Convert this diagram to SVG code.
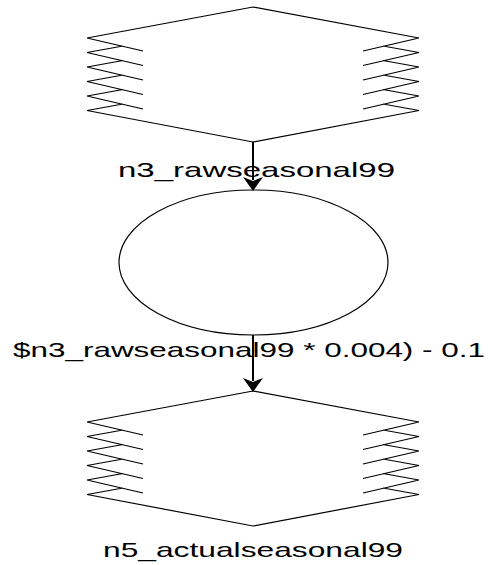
<svg xmlns="http://www.w3.org/2000/svg" width="488" height="565" viewBox="0 0 488 565">
<style>
.shape{fill:none;stroke:#000;stroke-width:1.2}
.lbl{font-family:"Liberation Sans",Arial,sans-serif;font-size:21px;fill:#000}
.edge{stroke:#000;stroke-width:2;fill:none}
.head{fill:#000;stroke:none}
</style>
<defs>
<path id="fuzzy" class="shape" d="M0,0 L-166,31 M-166,103.5 L0,135 L166,103.5 M166,31 L0,0
M-166,31 L-110,44 M-166,45.5 L-110,58.5 M-166,60 L-110,73 M-166,74.5 L-110,87.5 M-166,89 L-110,102
M-166,45.5 L-130,39 M-166,60 L-130,53.5 M-166,74.5 L-130,68 M-166,89 L-130,82.5 M-166,103.5 L-130,97
M166,31 L110,44 M166,45.5 L110,58.5 M166,60 L110,73 M166,74.5 L110,87.5 M166,89 L110,102
M166,45.5 L130,39 M166,60 L130,53.5 M166,74.5 L130,68 M166,89 L130,82.5 M166,103.5 L130,97"/>
</defs>
<rect width="488" height="565" fill="#fff"/>
<g id="n3">
<use href="#fuzzy" transform="translate(253,7)"/>
<text class="lbl" x="256.5" y="177" text-anchor="middle" textLength="277" lengthAdjust="spacingAndGlyphs">n3_rawseasonal99</text>
</g>
<g id="n4">
<ellipse class="shape" cx="253.5" cy="262.5" rx="134.5" ry="72.5"/>
<text class="lbl" x="249" y="357" text-anchor="middle" textLength="472" lengthAdjust="spacingAndGlyphs">$n3_rawseasonal99 * 0.004) - 0.1</text>
</g>
<g id="n5">
<use href="#fuzzy" transform="translate(253,391)"/>
<text class="lbl" x="253" y="557" text-anchor="middle" textLength="300" lengthAdjust="spacingAndGlyphs">n5_actualseasonal99</text>
</g>
<g id="connectors">
<line class="edge" x1="253" y1="142" x2="253" y2="180"/>
<polygon class="head" points="253,191 243,177 253,181 263,177"/>
<line class="edge" x1="253" y1="335" x2="253" y2="381"/>
<polygon class="head" points="253,392 243,378 253,382 263,378"/>
</g>
</svg>
